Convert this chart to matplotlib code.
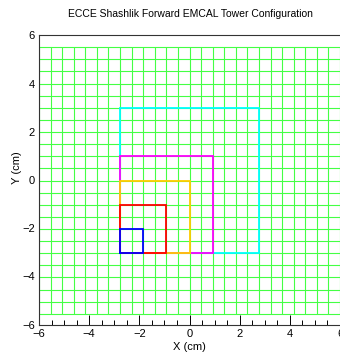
import matplotlib
matplotlib.use("Agg")
import matplotlib.pyplot as plt
import numpy as np

plt.rcParams['font.family'] = ['Liberation Sans', 'DejaVu Sans']

# tower grid (cm)
grid_x0 = -6.0
grid_dx = 12.0 / 26
grid_nx = 26
grid_y0 = -5.55
grid_dy = 0.5025
grid_ny = 22

# highlighted blocks: size in towers, anchored at tower (7, 5)
block_ix = 7
block_iy = 5
block_sizes = [12, 8, 6, 4, 2]
block_colors = ['#00ffff', '#ff00ff', '#ffcc00', '#ff0000', '#0000ff']

fig = plt.figure(figsize=(3.4, 3.54), dpi=100)
ax = fig.add_axes([39 / 340, 1 - 324.7 / 354, 301 / 340, 289.4 / 354])

xs = grid_x0 + grid_dx * np.arange(grid_nx + 1)
ys = grid_y0 + grid_dy * np.arange(grid_ny + 1)
ax.vlines(xs, ys[0], ys[-1], color='#44ff44', lw=0.8, zorder=2)
ax.hlines(ys, xs[0], xs[-1], color='#44ff44', lw=0.8, zorder=2)

bx = grid_x0 + grid_dx * block_ix
by = grid_y0 + grid_dy * block_iy
for n, c in zip(block_sizes, block_colors):
    w = n * grid_dx
    h = n * grid_dy
    ax.plot([bx, bx + w, bx + w, bx, bx], [by, by, by + h, by + h, by],
            color=c, lw=1.3, zorder=3, solid_joinstyle='miter')

ax.set_xlim(-6, 6)
ax.set_ylim(-6, 6)
ax.set_xticks(np.arange(-6, 7, 2))
ax.set_xticks(np.arange(-6, 6.01, 0.5), minor=True)
ax.set_yticks(np.arange(-6, 7, 2))
ax.tick_params(axis='x', which='major', direction='in', length=7, width=0.7,
               labelsize=8, pad=3)
ax.tick_params(axis='x', which='minor', direction='in', length=3.5, width=0.7)
ax.tick_params(axis='y', which='major', length=0, labelsize=8, pad=3)
ax.tick_params(top=False, right=False)
ax.spines['right'].set_visible(False)
for s in ['left', 'top', 'bottom']:
    ax.spines[s].set_linewidth(0.8)
    ax.spines[s].set_color('#333333')

ax.set_xlabel('X (cm)', fontsize=8, labelpad=2)
ax.set_ylabel('Y (cm)', fontsize=8)
ax.yaxis.set_label_coords(-0.058, 0.543)
ax.set_title('ECCE Shashlik Forward EMCAL Tower Configuration', fontsize=7.5,
             x=(190 - 39) / 301, y=1.035)

fig.savefig('out.png', dpi=100)
